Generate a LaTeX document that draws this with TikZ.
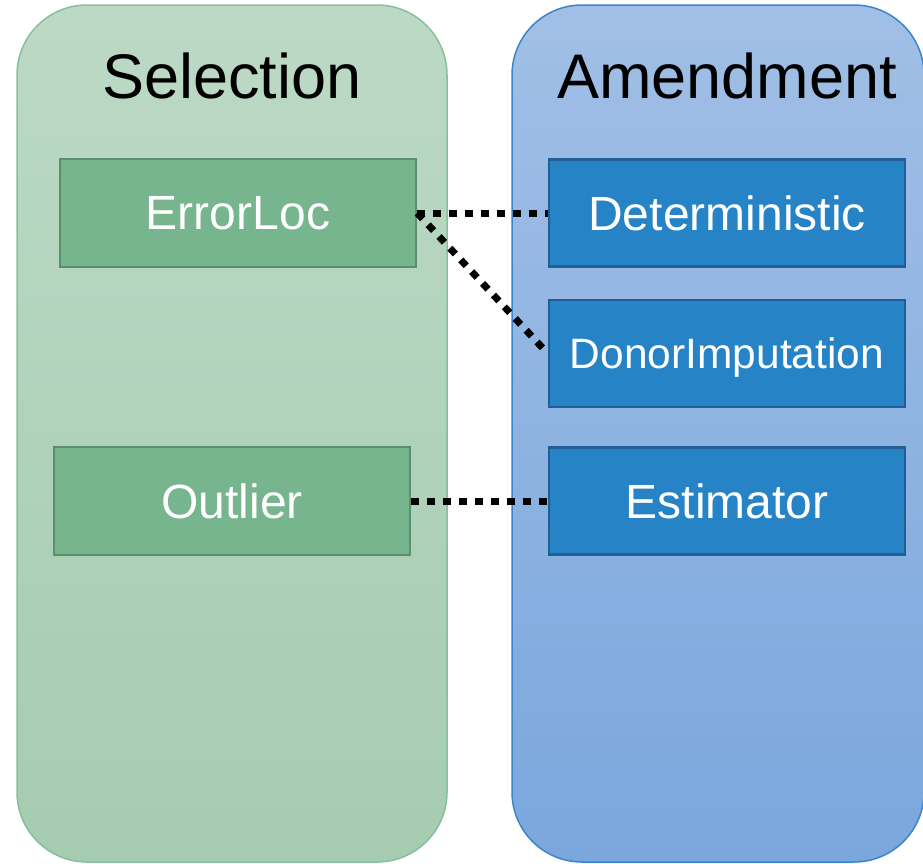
\documentclass[tikz,border=0pt]{standalone}
\usepackage{fontspec}
\setmainfont{Liberation Sans}
\definecolor{gpTop}{HTML}{BCD9C6}
\definecolor{gpBot}{HTML}{A5CCB0}
\definecolor{gpLine}{HTML}{86C09B}
\definecolor{bpTop}{HTML}{A1BFE6}
\definecolor{bpBot}{HTML}{7BA7DD}
\definecolor{bpLine}{HTML}{3A86CC}
\definecolor{gBox}{HTML}{77B58E}
\definecolor{gBoxLine}{HTML}{5B8F6C}
\definecolor{bBox}{HTML}{2683C6}
\definecolor{bBoxLine}{HTML}{1F5F96}
\begin{document}
\begin{tikzpicture}[x=1pt,y=-1pt,
  panel/.style={rounded corners=70pt, line width=1.5pt},
  ptitle/.style={font=\fontsize{63}{70}\selectfont, text=black, inner sep=0pt},
  gbox/.style={draw=gBoxLine, fill=gBox, line width=2.5pt, minimum width=356pt, minimum height=108pt, inner sep=0pt, text depth=0pt, text=white, font=\fontsize{48}{54}\selectfont},
  bbox/.style={draw=bBoxLine, fill=bBox, line width=2.5pt, minimum width=356pt, minimum height=107pt, inner sep=0pt, text depth=0pt, text=white, font=\fontsize{48}{54}\selectfont},
  link/.style={draw=black, line width=7pt, dash pattern=on 8pt off 8pt}
]
\useasboundingbox (0,0) rectangle (923,863);
\path[panel, draw=gpLine, top color=gpTop, bottom color=gpBot] (17,5) rectangle (447,862);
\path[panel, draw=bpLine, top color=bpTop, bottom color=bpBot] (512,5) rectangle (924,862);
\node[ptitle] (tsel) at (232,76) {Selection};
\node[ptitle] (tamd) at (727,76) {Amendment};
\node[gbox] (err) at (238,213) {ErrorLoc};
\node[gbox] (out) at (232,501) {Outlier};
\node[bbox] (det) at (727,213) {Deterministic};
\node[bbox, font=\fontsize{42.5}{48}\selectfont] (don) at (727,353.5) {DonorImputation};
\node[bbox] (est) at (727,501) {Estimator};
\draw[link] (err.east) -- (det.west);
\draw[link] (err.east) -- (don.west);
\draw[link] (out.east) -- (est.west);
\end{tikzpicture}
\end{document}
